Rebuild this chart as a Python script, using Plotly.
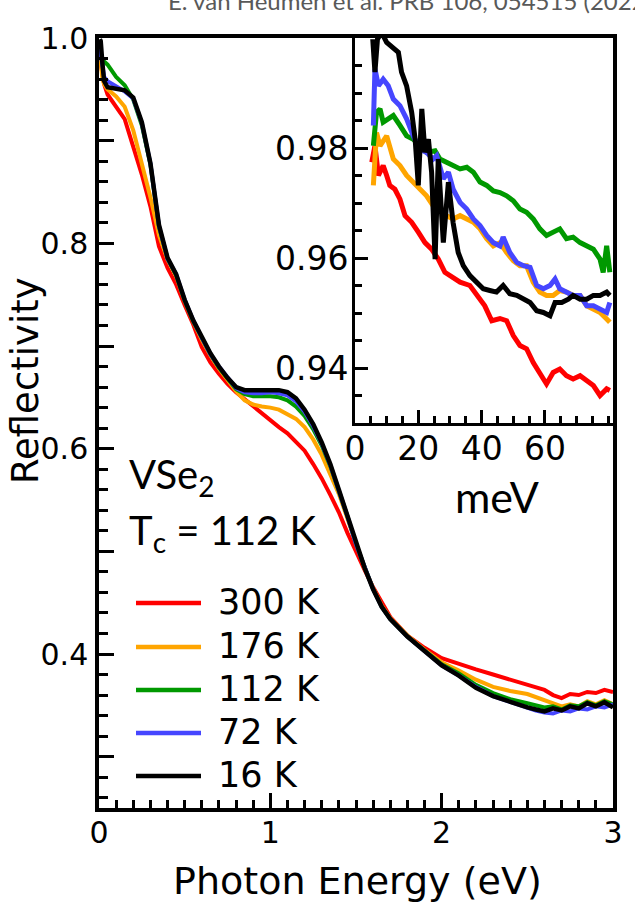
import plotly.graph_objects as go

# ---------------- data ----------------
E_MAIN = [0.005, 0.01, 0.02, 0.03, 0.05,
          0.1, 0.15, 0.2, 0.25, 0.3, 0.35, 0.4, 0.45, 0.5, 0.55, 0.6, 0.65, 0.7, 0.75, 0.8,
          0.85, 0.9, 0.95, 1.0, 1.05, 1.1, 1.15, 1.2, 1.25, 1.3, 1.35, 1.4, 1.45, 1.5, 1.55,
          1.6, 1.65, 1.7,
          1.8, 1.9, 2.0, 2.1, 2.2, 2.3, 2.4, 2.5,
          2.55, 2.6, 2.65, 2.7, 2.75, 2.8, 2.85, 2.9, 2.95, 3.0]

R_300 = [0.980, 0.975, 0.962, 0.955, 0.945,
         0.933, 0.921, 0.894, 0.867, 0.836, 0.797, 0.776, 0.760, 0.740, 0.721, 0.699, 0.684, 0.673, 0.663, 0.655,
         0.648, 0.641, 0.634, 0.627, 0.621, 0.615, 0.607, 0.598, 0.585, 0.571, 0.555, 0.538, 0.518, 0.499, 0.482,
         0.465, 0.450, 0.436,
         0.418, 0.406, 0.396, 0.390, 0.385, 0.380, 0.375, 0.370,
         0.368, 0.365, 0.360, 0.357, 0.361, 0.360, 0.363, 0.362, 0.365, 0.363]

R_176 = [0.985, 0.975, 0.960, 0.955, 0.950,
         0.943, 0.933, 0.910, 0.878, 0.845, 0.808, 0.784, 0.768, 0.744, 0.724, 0.706, 0.691, 0.678, 0.667, 0.656,
         0.647, 0.643, 0.641, 0.640, 0.638, 0.634, 0.629, 0.621, 0.609, 0.594, 0.576, 0.556, 0.532, 0.507, 0.484,
         0.464, 0.447, 0.435,
         0.418, 0.404, 0.392, 0.384, 0.375, 0.368, 0.364, 0.361,
         0.358, 0.354, 0.351, 0.349, 0.351, 0.349, 0.354, 0.351, 0.355, 0.351]

R_112 = [0.980, 0.985, 0.980, 0.977, 0.974,
         0.962, 0.954, 0.940, 0.915, 0.877, 0.816, 0.785, 0.769, 0.744, 0.724, 0.707, 0.692, 0.679, 0.668, 0.658,
         0.653, 0.651, 0.651, 0.651, 0.650, 0.647, 0.641, 0.632, 0.619, 0.603, 0.583, 0.559, 0.534, 0.507, 0.484,
         0.463, 0.446, 0.434,
         0.417, 0.403, 0.390, 0.381, 0.370, 0.362, 0.356, 0.352,
         0.350, 0.348, 0.349, 0.346, 0.350, 0.349, 0.353, 0.350, 0.354, 0.351]

R_72 = [0.990, 0.985, 0.970, 0.962, 0.958,
        0.953, 0.948, 0.941, 0.917, 0.878, 0.817, 0.785, 0.770, 0.745, 0.725, 0.708, 0.692, 0.680, 0.669, 0.659,
        0.655, 0.654, 0.654, 0.655, 0.654, 0.652, 0.646, 0.636, 0.622, 0.605, 0.584, 0.560, 0.534, 0.507, 0.484,
        0.463, 0.446, 0.434,
        0.417, 0.403, 0.389, 0.379, 0.368, 0.359, 0.353, 0.348,
        0.345, 0.343, 0.342, 0.345, 0.344, 0.347, 0.346, 0.349, 0.348, 0.351]

R_16 = [0.999, 0.997, 0.975, 0.958, 0.952,
        0.950, 0.949, 0.942, 0.918, 0.878, 0.818, 0.786, 0.770, 0.745, 0.725, 0.709, 0.693, 0.680, 0.669, 0.660,
        0.657, 0.657, 0.657, 0.658, 0.657, 0.655, 0.649, 0.638, 0.624, 0.606, 0.585, 0.560, 0.534, 0.507, 0.484,
        0.463, 0.446, 0.434,
        0.417, 0.403, 0.389, 0.379, 0.367, 0.359, 0.353, 0.348,
        0.346, 0.344, 0.347, 0.345, 0.349, 0.347, 0.352, 0.349, 0.353, 0.348]

# inset (far infrared, meV)
MEV_300 = [5.3, 6.3, 7.4, 8.9, 10, 11, 12.6, 14.2, 15.8, 17.9, 20, 22.1, 24.2, 26.3, 28.4, 30.5, 33.2,
           36.3, 38.4, 41, 43.2, 45.8, 47.9, 50, 52.1, 54.2, 56.3, 58.4, 60.5, 62.6, 64.7, 66.8, 68.9,
           71.1, 73.2, 75.3, 77.4, 79.5, 80.5]
IN_300 = [0.9774, 0.9804, 0.9750, 0.9768, 0.9750, 0.9732, 0.9725, 0.9707, 0.9677, 0.9665, 0.9647, 0.9628,
          0.9616, 0.9598, 0.9574, 0.9565, 0.9556, 0.9550, 0.9532, 0.9513, 0.9486, 0.9490, 0.9486, 0.9459,
          0.9441, 0.9435, 0.9410, 0.9392, 0.9371, 0.9392, 0.9398, 0.9386, 0.9380, 0.9386, 0.9377, 0.9368,
          0.9350, 0.9362, 0.9359]

MEV_176 = [5.8, 6.8, 7.9, 10, 12.1, 14.2, 16.3, 18.4, 20.5, 22.6, 24.7, 26.8, 28.9, 31, 33.2, 35.3, 37.4,
           39.5, 41.6, 43.7, 45.8, 47.9, 50, 52.1, 54.2, 56.3, 58.4, 60.5, 62.6, 64.7, 66.8, 68.9, 71.1,
           73.2, 75.3, 77.4, 79.5, 80.5]
IN_176 = [0.9732, 0.9828, 0.9804, 0.9822, 0.9780, 0.9768, 0.9750, 0.9738, 0.9725, 0.9713, 0.9695, 0.9689,
          0.9677, 0.9671, 0.9677, 0.9671, 0.9665, 0.9653, 0.9635, 0.9622, 0.9628, 0.9610, 0.9595, 0.9586,
          0.9586, 0.9556, 0.9538, 0.9532, 0.9532, 0.9541, 0.9538, 0.9532, 0.9532, 0.9513, 0.9507, 0.9501,
          0.9489, 0.9483]

MEV_112 = [5.8, 6.8, 7.9, 8.9, 10.5, 12.1, 14.2, 16.3, 18.4, 20.5, 22.6, 25.3, 26.8, 28.9, 31, 33.2, 35.3,
           37.4, 39.5, 41.6, 43.7, 45.8, 47.9, 50, 52.1, 54.2, 56.3, 58.4, 60.5, 62.6, 64.7, 66.8, 68.9,
           71.1, 73.2, 75.3, 77.4, 78.4, 79.5, 80.5]
IN_112 = [0.9804, 0.9865, 0.9871, 0.9847, 0.9853, 0.9859, 0.9841, 0.9822, 0.9816, 0.9804, 0.9792, 0.9795,
          0.9780, 0.9774, 0.9768, 0.9762, 0.9765, 0.9756, 0.9738, 0.9732, 0.9722, 0.9719, 0.9713, 0.9704,
          0.9689, 0.9683, 0.9671, 0.9653, 0.9641, 0.9647, 0.9653, 0.9635, 0.9638, 0.9628, 0.9622, 0.9616,
          0.9598, 0.9574, 0.9622, 0.9574]

MEV_72 = [5.8, 6.3, 7.4, 8.9, 10.5, 12.1, 14.2, 16.3, 18.4, 20.5, 22.6, 24.7, 25.8, 27.9, 29.5, 31, 33.2,
          35.3, 37.4, 39.5, 41.6, 43.7, 45.8, 46.8, 48.9, 51.1, 53.2, 55.3, 57.4, 59.5, 61.6, 63.2, 64.7,
          66.8, 68.9, 71.1, 73.2, 75.3, 77.4, 79.5, 80.5]
IN_72 = [0.9841, 0.9944, 0.9913, 0.9925, 0.9913, 0.9889, 0.9877, 0.9853, 0.9822, 0.9798, 0.9792, 0.9780,
         0.9786, 0.9744, 0.9756, 0.9725, 0.9701, 0.9689, 0.9671, 0.9659, 0.9641, 0.9628, 0.9622, 0.9638,
         0.9610, 0.9592, 0.9586, 0.9583, 0.9550, 0.9544, 0.9550, 0.9562, 0.9544, 0.9538, 0.9532, 0.9532,
         0.9513, 0.9513, 0.9507, 0.9501, 0.9519]

MEV_16 = [5.6, 6.3, 7.1, 8.4, 10, 12.1, 13.7, 14.7, 16.3, 17.9, 19, 20, 21.1, 22.1, 23.2, 24.2, 25.3, 26.3,
          27.9, 29.5, 31, 32.6, 34.2, 36.3, 38.4, 40.5, 42.6, 44.7, 46.8, 48.9, 51.1, 53.2, 55.3, 57.4,
          59.5, 61.6, 63.2, 65.3, 67.4, 68.9, 71.1, 73.2, 75.3, 77.4, 79.5, 80.5]
IN_16 = [0.9998, 0.9938, 0.9998, 1.0010, 0.9992, 0.9980, 0.9974, 0.9938, 0.9913, 0.9865, 0.9816, 0.9732,
         0.9871, 0.9792, 0.9816, 0.9756, 0.9598, 0.9780, 0.9628, 0.9738, 0.9664, 0.9610, 0.9586, 0.9568,
         0.9556, 0.9544, 0.9541, 0.9538, 0.9550, 0.9535, 0.9532, 0.9525, 0.9519, 0.9504, 0.9501, 0.9495,
         0.9519, 0.9519, 0.9525, 0.9532, 0.9525, 0.9525, 0.9532, 0.9532, 0.9538, 0.9532]

LABELS = ["300 K", "176 K", "112 K", "72 K", "16 K"]
COLORS = ["#FF0000", "#FFA500", "#009900", "#4646FF", "#000000"]
MAIN_SERIES = [R_300, R_176, R_112, R_72, R_16]
INSET_X = [MEV_300, MEV_176, MEV_112, MEV_72, MEV_16]
INSET_Y = [IN_300, IN_176, IN_112, IN_72, IN_16]

Y_TICKS = [0.3, 0.4, 0.5, 0.6, 0.7, 0.8, 0.9, 1.0]
Y_TICKTEXT = ["", "0.4", "", "0.6", "", "0.8", "", "1.0"]
X_TICKS = [0, 1, 2, 3]
IN_X_TICKS = [0, 20, 40, 60]
IN_Y_TICKS = [0.94, 0.96, 0.98]

# ---------------- layout geometry ----------------
W, H = 635, 908
ML, MR, MT, MB = 99, 22, 38, 100
PW = W - ML - MR
PH = H - MT - MB


def px(x):
    return (x - ML) / PW


def py(y):
    return (H - MB - y) / PH


SANS = "DejaVu Sans, Liberation Sans, Arial, sans-serif"
CAL = "Lato, Carlito, Calibri, sans-serif"

fig = go.Figure()

for R, c in zip(MAIN_SERIES, COLORS):
    fig.add_trace(go.Scatter(x=E_MAIN, y=R, mode="lines",
                             line=dict(color=c, width=4.5 if c == "#000000" else 4),
                             showlegend=False, hoverinfo="skip"))

for xs, ys, c in zip(INSET_X, INSET_Y, COLORS):
    fig.add_trace(go.Scatter(x=xs, y=ys, mode="lines", xaxis="x2", yaxis="y2",
                             line=dict(color=c, width=5),
                             showlegend=False, hoverinfo="skip"))

axis_common = dict(showline=True, linecolor="black", showgrid=False, zeroline=False,
                   ticks="inside", tickcolor="black", tickwidth=3)

fig.update_layout(
    width=W, height=H,
    margin=dict(l=ML, r=MR, t=MT, b=MB, pad=0),
    paper_bgcolor="white", plot_bgcolor="white",
    showlegend=False,
    xaxis=dict(axis_common, domain=[0, 1], range=[0, 3], linewidth=3.5, mirror=True,
               tickvals=X_TICKS, ticklen=15, ticklabelstandoff=-5,
               tickfont=dict(family=SANS, size=30, color="black"),
               minor=dict(dtick=0.1, tick0=0, ticks="inside", ticklen=8, tickwidth=3,
                          tickcolor="black", showgrid=False)),
    yaxis=dict(axis_common, domain=[0, 1], range=[0.25, 1.0], linewidth=3.5, mirror=True,
               tickvals=Y_TICKS, ticktext=Y_TICKTEXT, ticklen=15, ticklabelstandoff=1,
               tickfont=dict(family=SANS, size=30, color="black"),
               minor=dict(dtick=0.02, tick0=0, ticks="inside", ticklen=9, tickwidth=3,
                          tickcolor="black", showgrid=False)),
    xaxis2=dict(axis_common, domain=[px(355), 1], anchor="y2", range=[0, 81.5], linewidth=3,
                tickvals=IN_X_TICKS, ticklen=13, ticklabelstandoff=-6,
                tickfont=dict(family=SANS, size=33, color="black"),
                minor=dict(dtick=5, tick0=0, ticks="inside", ticklen=7, tickwidth=3,
                           tickcolor="black", showgrid=False)),
    yaxis2=dict(axis_common, domain=[py(423), 1], anchor="x2", range=[0.93, 1.0], linewidth=3,
                tickvals=IN_Y_TICKS, tickformat=".2f", ticklen=13, ticklabelstandoff=-3,
                tickfont=dict(family=SANS, size=33, color="black"),
                minor=dict(dtick=0.005, tick0=0.93, ticks="inside", ticklen=7, tickwidth=3,
                           tickcolor="black", showgrid=False)),
)

ann = []


def add_text(text, x, y, size, family, xanchor="left", angle=0, color="black"):
    ann.append(dict(text=text, x=px(x), y=py(y), xref="paper", yref="paper",
                    xanchor=xanchor, yanchor="middle", showarrow=False, textangle=angle,
                    font=dict(family=family, size=size, color=color)))


add_text("E. van Heumen et al. PRB 106, 054515 (2022)", 166, 0.5, 24, CAL, color="#595959")
add_text("Reflectivity", 25, 381, 37, SANS, xanchor="center", angle=-90)
add_text("Photon Energy (eV)", 357, 881, 38, SANS, xanchor="center")
add_text("VSe<sub>2</sub>", 127, 476, 40, CAL)
add_text("T<sub>c</sub> = 112 K", 127, 532, 40, CAL)
add_text("meV", 497, 496, 43, CAL, xanchor="center")

shapes = []
LEG_Y = [603, 647, 690, 733, 776]
for lab, c, yy in zip(LABELS, COLORS, LEG_Y):
    shapes.append(dict(type="line", xref="paper", yref="paper",
                       x0=px(136), x1=px(201), y0=py(yy), y1=py(yy),
                       line=dict(color=c, width=4.5)))
    add_text(lab, 216, yy - 1, 35, SANS)

fig.update_layout(annotations=ann, shapes=shapes)

fig.write_html("out.html", config={"displayModeBar": False},
               post_script="document.body.style.margin='0';document.body.style.overflow='hidden';")
